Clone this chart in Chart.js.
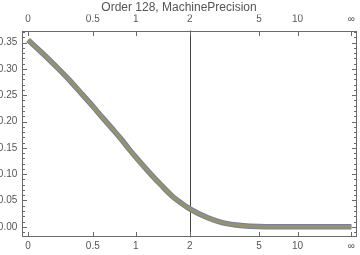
<!DOCTYPE html>
<html>
<head>
<meta charset="utf-8">
<script src="https://cdn.jsdelivr.net/npm/chart.js@4.4.1/dist/chart.umd.min.js"></script>
<style>
html,body{margin:0;padding:0;background:#fff;}
canvas{display:block;}
</style>
</head>
<body>
<canvas id="c" width="360" height="255"></canvas>
<script>
// ---- data (x in original units, y values) ----
const xValues = [0, 0.1, 0.2, 0.3, 0.4, 0.5, 0.6, 0.7, 0.8, 0.9, 1.0, 1.2, 1.4, 1.6, 1.8, 2.0, 2.5, 3, 3.5, 4, 5, 6, 8, 10, 15, 20, 50, Infinity];
const yValues = [0.355, 0.328, 0.302, 0.277, 0.252, 0.229, 0.207, 0.187, 0.168, 0.149, 0.132, 0.103, 0.079, 0.059, 0.045, 0.034, 0.017, 0.008, 0.004, 0.002, 0.0005, 0, 0, 0, 0, 0, 0, 0];
const xTickValues = [0, 0.5, 1, 2, 5, 10, Infinity];
const xTickLabels = ['0', '0.5', '1', '2', '5', '10', '\u221E'];
const yTickValues = [0, 0.05, 0.10, 0.15, 0.20, 0.25, 0.30, 0.35];
const markerX = 2;
const titleText = 'Order 128, MachinePrecision';

// compactifying transform used by the horizontal axis: u = x/(x+2)
function toU(x){ return x === Infinity ? 1 : x / (x + 2); }

const points = xValues.map((x, i) => ({x: toU(x), y: yValues[i]}));

const FONT = 'Liberation Sans, Arial, sans-serif';
const frameColor = '#6a6a6a';

const framePlugin = {
  id: 'frame',
  beforeDatasetsDraw(chart){
    const ctx = chart.ctx, a = chart.chartArea;
    const xs = chart.scales.x;
    const px = Math.round(xs.getPixelForValue(toU(markerX))) + 0.5;
    ctx.save();
    ctx.strokeStyle = '#444';
    ctx.lineWidth = 1;
    ctx.beginPath();
    ctx.moveTo(px, a.top); ctx.lineTo(px, a.bottom);
    ctx.stroke();
    ctx.restore();
  },
  afterDraw(chart){
    const ctx = chart.ctx, a = chart.chartArea;
    const xs = chart.scales.x, ys = chart.scales.y;
    const L = Math.round(a.left) + 0.5, R = Math.round(a.right) - 0.5;
    const T = Math.round(a.top) + 0.5, B = Math.round(a.bottom) - 0.5;
    ctx.save();
    ctx.strokeStyle = frameColor;
    ctx.lineWidth = 1;
    ctx.strokeRect(L, T, R - L, B - T);
    ctx.beginPath();
    const major = 4.5, minor = 2.5;
    xTickValues.forEach(v => {
      const p = Math.round(xs.getPixelForValue(toU(v))) + 0.5;
      ctx.moveTo(p, B); ctx.lineTo(p, B - major);
      ctx.moveTo(p, T); ctx.lineTo(p, T + major);
    });
    for (let k = -1; k <= 37; k++) {
      const v = k / 100;
      if (v < ys.min || v > ys.max) continue;
      const len = (k % 5 === 0) ? major : minor;
      const p = Math.round(ys.getPixelForValue(v)) + 0.5;
      ctx.moveTo(L, p); ctx.lineTo(L + len, p);
      ctx.moveTo(R, p); ctx.lineTo(R - len, p);
    }
    ctx.stroke();
    ctx.restore();
  }
};

const xAxis = (pos, pad, h) => ({
  type: 'linear',
  position: pos,
  min: -0.018,
  max: 1.018,
  afterBuildTicks: s => { s.ticks = xTickValues.map(v => ({value: toU(v)})); },
  afterFit: s => { s.height = h; },
  ticks: {
    autoSkip: false, maxRotation: 0, padding: pad,
    color: '#555', font: {family: FONT, size: 10},
    callback: (v, i) => xTickLabels[i]
  },
  grid: {display: false, drawTicks: false},
  border: {display: false}
});

new Chart(document.getElementById('c'), {
  type: 'line',
  data: {
    datasets: [
      {data: points, borderColor: 'rgb(150,146,112)', borderWidth: 3.4, pointRadius: 0, fill: false, cubicInterpolationMode: 'monotone', order: 0},
      {data: points, borderColor: 'rgb(120,128,150)', borderWidth: 5.5, pointRadius: 0, fill: false, cubicInterpolationMode: 'monotone', order: 1}
    ]
  },
  options: {
    responsive: false,
    animation: false,
    layout: {padding: {left: 0, right: 2, top: 0, bottom: 2.7}},
    plugins: {
      legend: {display: false},
      tooltip: {enabled: false},
      title: {
        display: true, text: titleText, color: '#555',
        font: {family: FONT, size: 12, weight: 'normal', lineHeight: 1.2},
        padding: {top: 0, bottom: 0}
      }
    },
    scales: {
      x: xAxis('bottom', 3, 15),
      x2: xAxis('top', 5, 16.1),
      y: {
        type: 'linear',
        min: -0.02,
        max: 0.373,
        afterBuildTicks: s => { s.ticks = yTickValues.map(v => ({value: v})); },
        afterFit: s => { s.width = 22.3; },
        ticks: {
          padding: 5, color: '#555', font: {family: FONT, size: 10},
          callback: v => v.toFixed(2)
        },
        grid: {display: false, drawTicks: false},
        border: {display: false}
      }
    }
  },
  plugins: [framePlugin]
});
</script>
</body>
</html>
